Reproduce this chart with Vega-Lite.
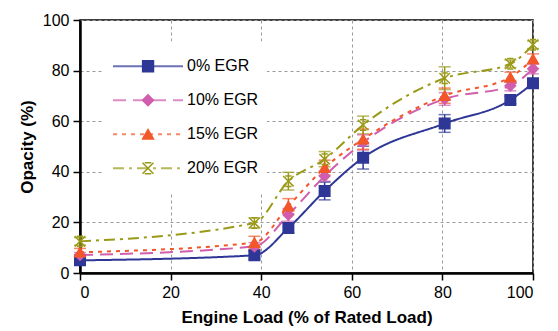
{
  "$schema": "https://vega.github.io/schema/vega-lite/v6.json",
  "width": 453,
  "height": 253,
  "autosize": "none",
  "padding": {"left": 80, "top": 20, "right": 25, "bottom": 58},
  "background": "white",
  "config": {
    "view": {"stroke": "black", "strokeWidth": 1.5},
    "axis": {
      "domainColor": "black",
      "domainWidth": 2.5,
      "tickColor": "black",
      "tickWidth": 1.5,
      "tickSize": 7,
      "labelFont": "Liberation Sans",
      "labelFontSize": 16,
      "labelColor": "black",
      "labelPadding": 4,
      "titleFont": "Liberation Sans",
      "titleFontSize": 17,
      "titleFontWeight": "bold",
      "titleColor": "black",
      "grid": true,
      "gridDash": [3, 3],
      "gridColor": "#9a9a9a",
      "gridWidth": 1
    }
  },
  "data": {
    "values": [
      {"series": "0% EGR", "load": 0, "opacity": 5, "lo": 4, "hi": 6},
      {"series": "0% EGR", "load": 38.5, "opacity": 7, "lo": 5.5, "hi": 8.5},
      {"series": "0% EGR", "load": 46, "opacity": 17.8, "lo": 15.8, "hi": 19.8},
      {"series": "0% EGR", "load": 54, "opacity": 32.4, "lo": 28.9, "hi": 35.9},
      {"series": "0% EGR", "load": 62.5, "opacity": 45.6, "lo": 41.1, "hi": 50.1},
      {"series": "0% EGR", "load": 80.5, "opacity": 59.1, "lo": 55.6, "hi": 62.6},
      {"series": "0% EGR", "load": 95, "opacity": 68.4, "lo": 66.9, "hi": 69.9},
      {"series": "0% EGR", "load": 100, "opacity": 75, "lo": 73.5, "hi": 76.5},
      {"series": "10% EGR", "load": 0, "opacity": 7.1, "lo": 6.1, "hi": 8.1},
      {"series": "10% EGR", "load": 38.5, "opacity": 10.5, "lo": 9, "hi": 12},
      {"series": "10% EGR", "load": 46, "opacity": 23, "lo": 20.5, "hi": 25.5},
      {"series": "10% EGR", "load": 54, "opacity": 38.3, "lo": 36.3, "hi": 40.3},
      {"series": "10% EGR", "load": 62.5, "opacity": 51.6, "lo": 48.6, "hi": 54.6},
      {"series": "10% EGR", "load": 80.5, "opacity": 68.8, "lo": 66.3, "hi": 71.3},
      {"series": "10% EGR", "load": 95, "opacity": 74, "lo": 72, "hi": 76},
      {"series": "10% EGR", "load": 100, "opacity": 80.7, "lo": 78.7, "hi": 82.7},
      {"series": "15% EGR", "load": 0, "opacity": 8.2, "lo": 6.7, "hi": 9.7},
      {"series": "15% EGR", "load": 38.5, "opacity": 12, "lo": 9.5, "hi": 14.5},
      {"series": "15% EGR", "load": 46, "opacity": 26.4, "lo": 23.4, "hi": 29.4},
      {"series": "15% EGR", "load": 54, "opacity": 41.6, "lo": 38.6, "hi": 44.6},
      {"series": "15% EGR", "load": 62.5, "opacity": 52.9, "lo": 48.9, "hi": 56.9},
      {"series": "15% EGR", "load": 80.5, "opacity": 70.1, "lo": 67.1, "hi": 73.1},
      {"series": "15% EGR", "load": 95, "opacity": 77.4, "lo": 75.4, "hi": 79.4},
      {"series": "15% EGR", "load": 100, "opacity": 84.6, "lo": 82.6, "hi": 86.6},
      {"series": "20% EGR", "load": 0, "opacity": 12.5, "lo": 11, "hi": 14},
      {"series": "20% EGR", "load": 38.5, "opacity": 19.8, "lo": 17.8, "hi": 21.8},
      {"series": "20% EGR", "load": 46, "opacity": 36.3, "lo": 32.8, "hi": 39.8},
      {"series": "20% EGR", "load": 54, "opacity": 45, "lo": 42, "hi": 48},
      {"series": "20% EGR", "load": 62.5, "opacity": 58.5, "lo": 55, "hi": 62},
      {"series": "20% EGR", "load": 80.5, "opacity": 77, "lo": 72.5, "hi": 81.5},
      {"series": "20% EGR", "load": 95, "opacity": 82.7, "lo": 81.2, "hi": 84.2},
      {"series": "20% EGR", "load": 100, "opacity": 90.2, "lo": 88.7, "hi": 91.7}
    ]
  },
  "transform": [{"calculate": "datum.series", "as": "marker"}],
  "encoding": {
    "x": {
      "field": "load",
      "type": "quantitative",
      "scale": {"domain": [0, 100], "nice": false},
      "axis": {"values": [0, 20, 40, 60, 80, 100], "title": "Engine Load (% of Rated Load)", "titlePadding": 9}
    }
  },
  "layer": [
    {
      "mark": {"type": "rule", "strokeWidth": 1.5},
      "encoding": {
        "y": {"field": "lo", "type": "quantitative"},
        "y2": {"field": "hi"},
        "color": {"field": "series", "type": "nominal",
          "scale": {"domain": ["0% EGR", "10% EGR", "15% EGR", "20% EGR"], "range": ["#2e3796", "#d05ead", "#f2572a", "#9a9a18"]}}
      }
    },
    {
      "mark": {"type": "tick", "orient": "horizontal", "size": 12, "thickness": 1.5},
      "encoding": {
        "y": {"field": "lo", "type": "quantitative"},
        "color": {"field": "series", "type": "nominal"}
      }
    },
    {
      "mark": {"type": "tick", "orient": "horizontal", "size": 12, "thickness": 1.5},
      "encoding": {
        "y": {"field": "hi", "type": "quantitative"},
        "color": {"field": "series", "type": "nominal"}
      }
    },
    {
      "mark": {"type": "line", "interpolate": "monotone", "strokeWidth": 2},
      "encoding": {
        "y": {
          "field": "opacity",
          "type": "quantitative",
          "scale": {"domain": [0, 100], "nice": false},
          "axis": {"values": [0, 20, 40, 60, 80, 100], "title": "Opacity (%)", "titlePadding": 6}
        },
        "color": {
          "field": "series", "type": "nominal",
          "legend": {
            "orient": "none", "legendX": 24, "legendY": 21.5, "title": null,
            "symbolType": "stroke", "symbolSize": 4900, "symbolStrokeWidth": 2,
            "clipHeight": 33.5, "rowPadding": 0, "labelFont": "Liberation Sans",
            "labelFontSize": 16, "labelColor": "black", "labelOffset": 3,
            "fillColor": "white", "padding": 8
          }
        },
        "strokeDash": {
          "field": "series", "type": "nominal",
          "scale": {"domain": ["0% EGR", "10% EGR", "15% EGR", "20% EGR"], "range": [[1, 0], [13, 7], [4, 5], [11, 5, 3, 5]]},
          "legend": {
            "orient": "none", "legendX": 24, "legendY": 21.5, "title": null,
            "symbolType": "stroke", "symbolSize": 4900, "symbolStrokeWidth": 2,
            "clipHeight": 33.5, "rowPadding": 0, "labelFont": "Liberation Sans",
            "labelFontSize": 16, "labelColor": "black", "labelOffset": 3,
            "fillColor": "white", "padding": 8
          }
        }
      }
    },
    {
      "mark": {"type": "point", "filled": true, "opacity": 1, "size": 110, "strokeWidth": 1.5,
        "stroke": {"expr": "scale('color', datum.series)"}},
      "encoding": {
        "y": {"field": "opacity", "type": "quantitative"},
        "color": {"field": "series", "type": "nominal"},
        "shape": {
          "field": "marker", "type": "nominal",
          "scale": {"range": ["square", "diamond", "triangle-up", "M-1,-1L1,1M-1,1L1,-1M-0.6,-1L0.6,-1M-0.6,1L0.6,1"]},
          "legend": {
            "orient": "none", "legendX": 61.5, "legendY": 29.5, "title": null,
            "symbolSize": 120, "clipHeight": 33.5, "rowPadding": 0, "padding": 0,
            "labelExpr": "''", "labelFontSize": 1, "symbolStrokeWidth": 1.5,
            "symbolOpacity": 1,
            "symbolFillColor": {"expr": "scale('color', datum.value)"},
            "symbolStrokeColor": {"expr": "scale('color', datum.value)"}
          }
        }
      }
    }
  ]
}
